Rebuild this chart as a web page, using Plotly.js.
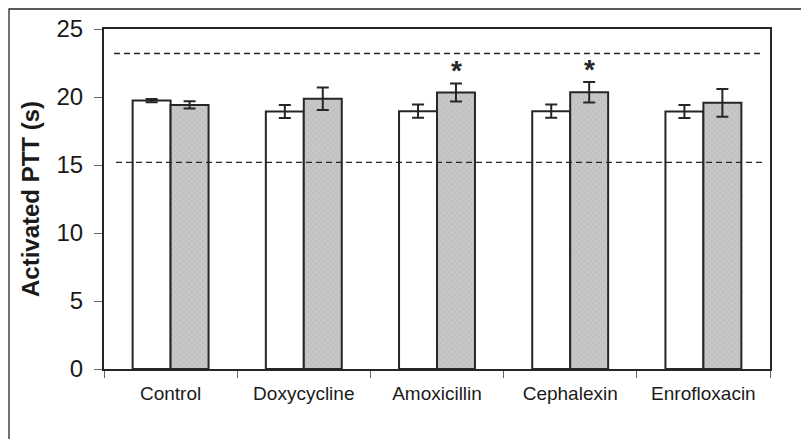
<!DOCTYPE html>
<html>
<head>
<meta charset="utf-8">
<script src="https://cdn.plot.ly/plotly-3.0.1.min.js"></script>
<style>
html,body{margin:0;padding:0;background:#fff;}
#chart{width:801px;height:439px;}
</style>
</head>
<body>
<div id="chart"></div>
<script>
var categories = ["Control", "Doxycycline", "Amoxicillin", "Cephalexin", "Enrofloxacin"];
var baselineValues = [19.74, 18.93, 18.96, 18.96, 18.93];
var baselineErrors = [0.12, 0.48, 0.49, 0.49, 0.48];
var treatedValues = [19.42, 19.87, 20.33, 20.35, 19.57];
var treatedErrors = [0.27, 0.82, 0.67, 0.76, 1.02];
var significant = ["Amoxicillin", "Cephalexin"];
var referenceLow = 15.2;
var referenceHigh = 23.2;
var yTicks = [0, 5, 10, 15, 20, 25];

var lineCol = "#262626";

var traces = [
  {
    type: "bar", x: categories, y: baselineValues, name: "Baseline",
    marker: {color: "#ffffff", line: {color: lineCol, width: 2}},
    error_y: {type: "data", array: baselineErrors, visible: true, color: lineCol, thickness: 2, width: 6}
  },
  {
    type: "bar", x: categories, y: treatedValues, name: "Treated",
    marker: {color: "#c4c4c4", line: {color: lineCol, width: 2},
             pattern: {shape: "x", size: 4, solidity: 0.15, fgcolor: "#a8a8a8", bgcolor: "#c8c8c8"}},
    error_y: {type: "data", array: treatedErrors, visible: true, color: lineCol, thickness: 2, width: 6}
  }
];

var annotations = significant.map(function(c){
  var i = categories.indexOf(c);
  return {x: i + 0.143, y: treatedValues[i] + treatedErrors[i], xref: "x", yref: "y",
    text: "*", showarrow: false, yanchor: "bottom", yshift: -5,
    font: {family: "Liberation Sans, Arial, sans-serif", size: 28, color: lineCol, weight: "bold"}};
});

var shapes = [
  {type: "line", xref: "paper", yref: "y", x0: 0.015, x1: 0.988, y0: referenceHigh, y1: referenceHigh,
   line: {color: lineCol, width: 1.3, dash: "6px,4px"}},
  {type: "line", xref: "paper", yref: "y", x0: 0.018, x1: 0.988, y0: referenceLow, y1: referenceLow,
   line: {color: lineCol, width: 1.3, dash: "6px,4px"}},
  {type: "rect", xref: "paper", yref: "paper", x0: -0.1426, x1: 1.2, y0: -0.4, y1: 1.0588,
   line: {color: lineCol, width: 1.3}, fillcolor: "rgba(0,0,0,0)", layer: "below"}
];

var layout = {
  width: 801, height: 439,
  margin: {l: 104, r: 31, t: 29, b: 70},
  paper_bgcolor: "#ffffff", plot_bgcolor: "#ffffff",
  showlegend: false,
  barmode: "group", bargap: 0.43, bargroupgap: 0,
  font: {family: "Liberation Sans, Arial, sans-serif", color: "#1a1a1a"},
  xaxis: {
    type: "category", showline: true, mirror: true, linecolor: lineCol, linewidth: 2,
    ticks: "outside", tickson: "boundaries", ticklen: 7, tickcolor: "#666", tickwidth: 1,
    tickfont: {size: 19, color: "#1a1a1a"}, ticklabelstandoff: 6, showgrid: false, zeroline: false,
    range: [-0.5, 4.5]
  },
  yaxis: {
    range: [0, 25], tickvals: yTicks, showline: true, mirror: true, linecolor: lineCol, linewidth: 2,
    ticks: "outside", ticklen: 8, tickcolor: "#666", tickwidth: 1,
    tickfont: {size: 24, color: "#1a1a1a"}, ticklabelstandoff: 6, showgrid: false, zeroline: false,
    title: {text: "Activated PTT (s)", font: {size: 24, weight: "bold", color: "#1a1a1a"}, standoff: 10}
  },
  annotations: annotations,
  shapes: shapes
};

Plotly.newPlot("chart", traces, layout, {displayModeBar: false, staticPlot: true});
</script>
</body>
</html>
